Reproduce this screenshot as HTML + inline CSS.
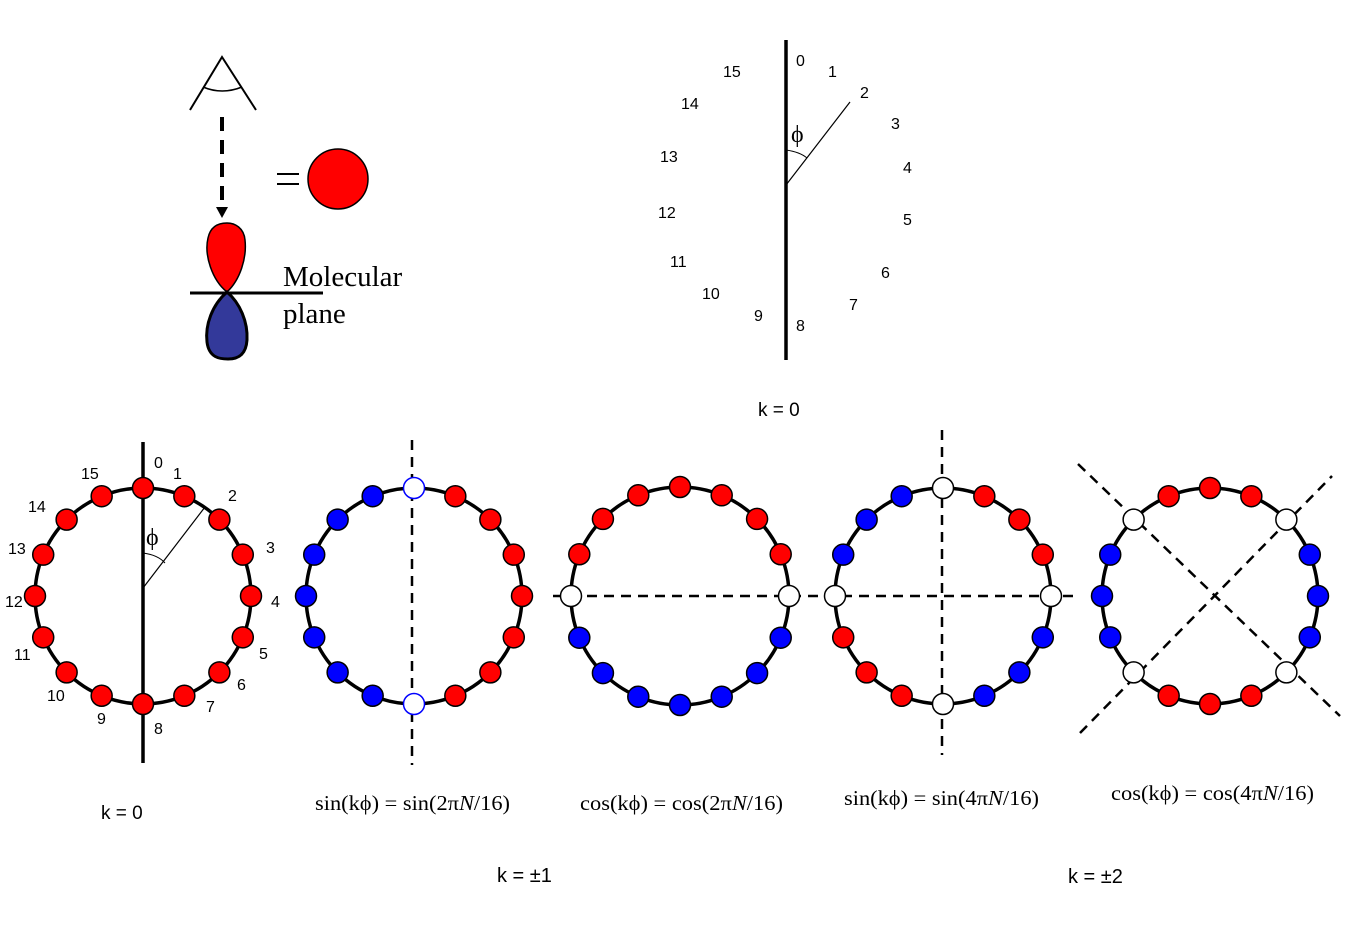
<!DOCTYPE html>
<html><head><style>
body{margin:0;background:#fff}
svg{display:block}
.s{font-family:"Liberation Sans",sans-serif;font-size:16px}
.r{font-family:"Liberation Serif",serif;font-size:21px}
</style></head><body>
<svg width="1346" height="929" viewBox="0 0 1346 929" xmlns="http://www.w3.org/2000/svg">
<path d="M190 110 L222 57 L256 110" fill="none" stroke="#000" stroke-width="2"/>
<path d="M203 87 Q222 95 242 87" fill="none" stroke="#000" stroke-width="1.5"/>
<line x1="222" y1="117" x2="222" y2="205" stroke="#000" stroke-width="4" stroke-dasharray="14,9"/>
<polygon points="216,207 228,207 222,218" fill="#000"/>
<line x1="277" y1="174" x2="299" y2="174" stroke="#000" stroke-width="2"/>
<line x1="277" y1="184" x2="299" y2="184" stroke="#000" stroke-width="2"/>
<circle cx="338" cy="179" r="30" fill="#f00" stroke="#000" stroke-width="1.5"/>
<path d="M227 292 C212 280 204 255 208 238 C211 224 222 223 227 223 C235 223 244 228 245 240 C247 258 240 280 227 292 Z" fill="#f00" stroke="#000" stroke-width="1.5"/>
<path d="M227 292 C212 305 205 325 207 342 C209 358 220 359 228 359 C238 359 246 355 247 340 C248 322 240 303 227 292 Z" fill="#33399a" stroke="#000" stroke-width="3"/>
<line x1="190" y1="293" x2="323" y2="293" stroke="#000" stroke-width="3"/>
<text x="283" y="286" font-family="Liberation Serif,serif" font-size="29">Molecular</text>
<text x="283" y="323" font-family="Liberation Serif,serif" font-size="29">plane</text>
<line x1="786" y1="40" x2="786" y2="360" stroke="#000" stroke-width="3.5"/>
<line x1="786" y1="185" x2="850" y2="102" stroke="#000" stroke-width="1.2"/>
<path d="M786 150 Q800 152 807 158" fill="none" stroke="#000" stroke-width="1"/>
<text x="791" y="142" font-family="Liberation Serif,serif" font-size="24">ϕ</text>
<g class="s">
<text x="796" y="66">0</text><text x="828" y="77">1</text><text x="860" y="98">2</text><text x="891" y="129">3</text><text x="903" y="173">4</text><text x="903" y="225">5</text><text x="881" y="278">6</text><text x="849" y="310">7</text><text x="796" y="331">8</text><text x="754" y="321">9</text><text x="702" y="299">10</text><text x="670" y="267">11</text><text x="658" y="218">12</text><text x="660" y="162">13</text><text x="681" y="109">14</text><text x="723" y="77">15</text>
<text x="758" y="416" font-size="19">k = 0</text>
</g>
<circle cx="143" cy="596" r="108" fill="none" stroke="#000" stroke-width="3.5"/>
<line x1="143" y1="442" x2="143" y2="763" stroke="#000" stroke-width="3.5"/>
<line x1="143" y1="588" x2="205" y2="507" stroke="#000" stroke-width="1.2"/>
<path d="M143 553 Q158 555 165 563" fill="none" stroke="#000" stroke-width="1"/>
<text x="146" y="545" font-family="Liberation Serif,serif" font-size="24">ϕ</text>
<g class="s">
<text x="154" y="468">0</text><text x="173" y="479">1</text><text x="228" y="501">2</text><text x="266" y="553">3</text><text x="271" y="607">4</text><text x="259" y="659">5</text><text x="237" y="690">6</text><text x="206" y="712">7</text><text x="154" y="734">8</text><text x="97" y="724">9</text><text x="47" y="701">10</text><text x="14" y="660">11</text><text x="5" y="607">12</text><text x="8" y="554">13</text><text x="28" y="512">14</text><text x="81" y="479">15</text>
<text x="101" y="819" font-size="19">k = 0</text>
<text x="497" y="882" font-size="20">k = ±1</text>
<text x="1068" y="883" font-size="20">k = ±2</text>
</g>
<circle cx="414" cy="596" r="108" fill="none" stroke="#000" stroke-width="3.5"/>
<circle cx="680" cy="596" r="109" fill="none" stroke="#000" stroke-width="3.5"/>
<circle cx="943" cy="596" r="108" fill="none" stroke="#000" stroke-width="3.5"/>
<circle cx="1210" cy="596" r="108" fill="none" stroke="#000" stroke-width="3.5"/>
<g stroke="#000" stroke-width="2.5" stroke-dasharray="10,7" fill="none">
<line x1="412" y1="440" x2="412" y2="765"/>
<line x1="553" y1="596" x2="1075" y2="596"/>
<line x1="942" y1="430" x2="942" y2="755"/>
<line x1="1078" y1="464" x2="1340" y2="716"/>
<line x1="1080" y1="733" x2="1332" y2="476"/>
</g>
<g id="dots" stroke="#000" stroke-width="1.5"></g>
<g class="r">
<text x="315" y="810" textLength="195" lengthAdjust="spacingAndGlyphs">sin(kϕ) = sin(2π<tspan font-style="italic">N</tspan>/16)</text>
<text x="580" y="810" textLength="203" lengthAdjust="spacingAndGlyphs">cos(kϕ) = cos(2π<tspan font-style="italic">N</tspan>/16)</text>
<text x="844" y="805" textLength="195" lengthAdjust="spacingAndGlyphs">sin(kϕ) = sin(4π<tspan font-style="italic">N</tspan>/16)</text>
<text x="1111" y="800" textLength="203" lengthAdjust="spacingAndGlyphs">cos(kϕ) = cos(4π<tspan font-style="italic">N</tspan>/16)</text>
</g>
</svg>
<script>
var R='#f00',B='#00f';
var rings=[
 [143,596,108,'RRRRRRRRRRRRRRRR'],
 [414,596,108,'ORRRRRRROBBBBBBB'],
 [680,596,109,'RRRRWBBBBBBBWRRR'],
 [943,596,108,'WRRRWBBBWRRRWBBB'],
 [1210,596,108,'RRWBBBWRRRWBBBWR']];
var g=document.getElementById('dots'),ns='http://www.w3.org/2000/svg';
rings.forEach(function(r){
 for(var i=0;i<16;i++){
  var a=i*Math.PI/8,x=r[0]+r[2]*Math.sin(a),y=r[1]-r[2]*Math.cos(a),c=r[3][i];
  var e=document.createElementNS(ns,'circle');
  e.setAttribute('cx',x);e.setAttribute('cy',y);e.setAttribute('r',10.5);
  if(c=='R')e.setAttribute('fill',R);
  else if(c=='B')e.setAttribute('fill',B);
  else {e.setAttribute('fill','#fff');if(c=='O')e.setAttribute('stroke',B);}
  g.appendChild(e);
 }
});
</script>
</body></html>
